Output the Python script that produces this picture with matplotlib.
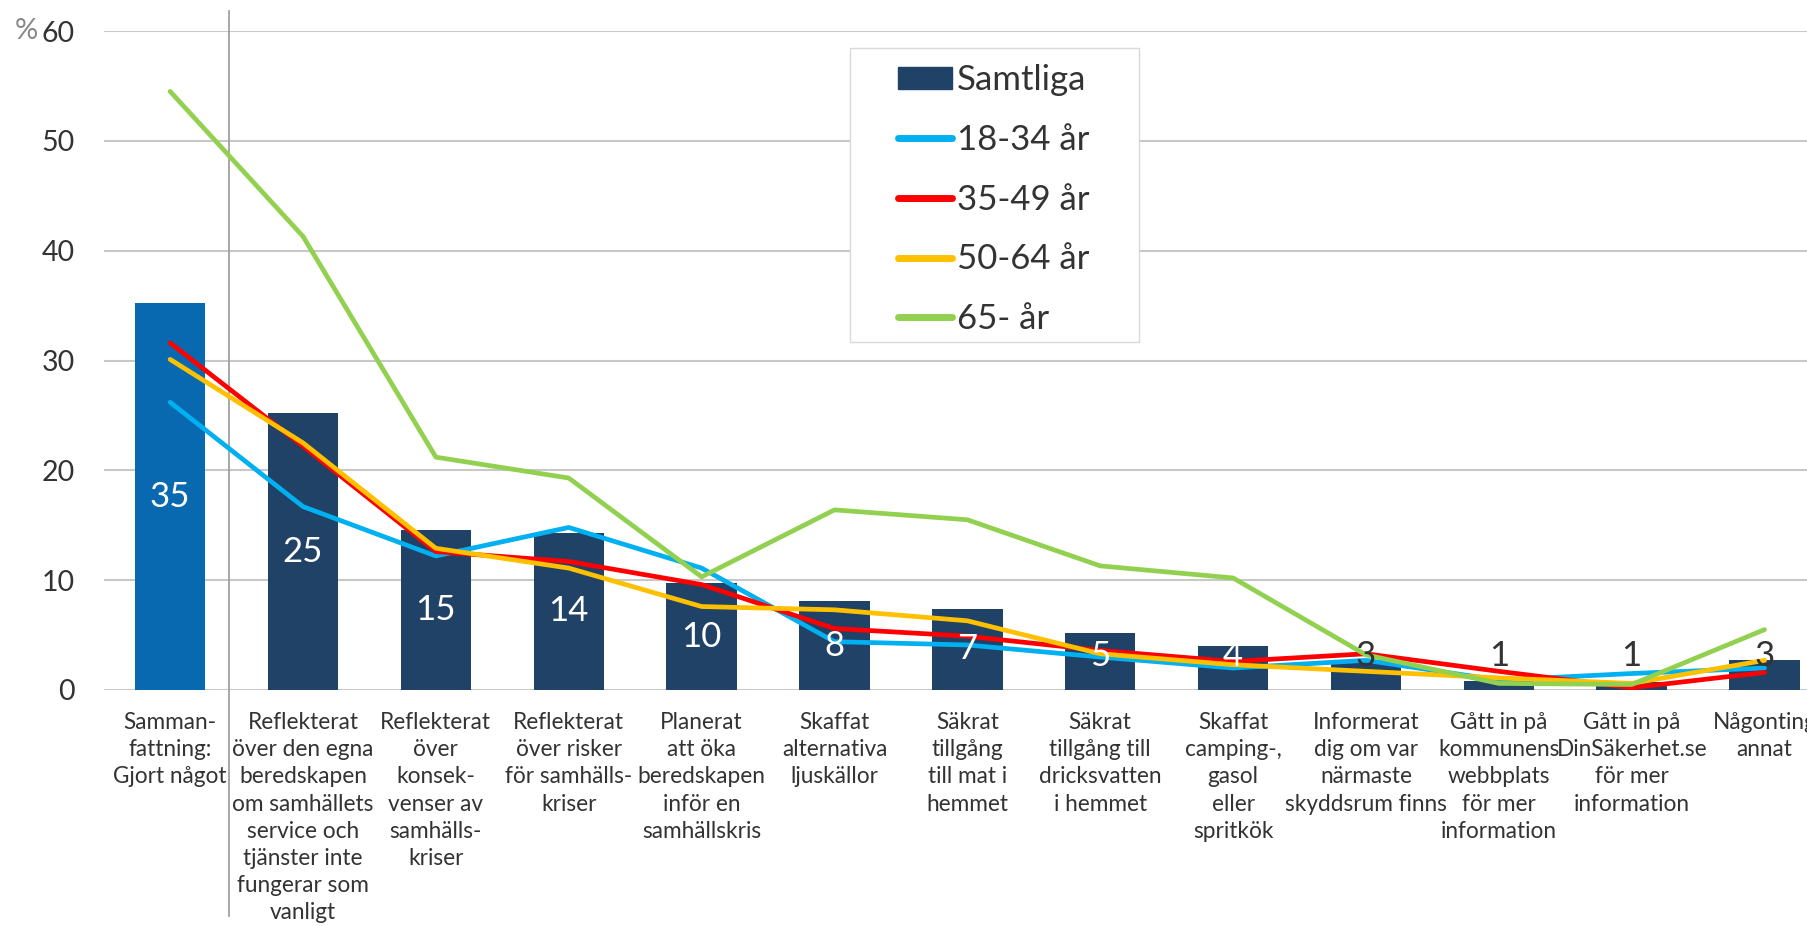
import matplotlib
matplotlib.use("Agg")
import matplotlib.pyplot as plt
from matplotlib.patches import Rectangle, Patch
from matplotlib.lines import Line2D
import matplotlib.transforms as mtransforms

plt.rcParams['font.family'] = ['Lato', 'DejaVu Sans']

# --- data -------------------------------------------------------------
categories = [
    "Samman-\nfattning:\nGjort något",
    "Reflekterat\növer den egna\nberedskapen\nom samhällets\nservice och\ntjänster inte\nfungerar som\nvanligt",
    "Reflekterat\növer\nkonsek-\nvenser av\nsamhälls-\nkriser",
    "Reflekterat\növer risker\nför samhälls-\nkriser",
    "Planerat\natt öka\nberedskapen\ninför en\nsamhällskris",
    "Skaffat\nalternativa\nljuskällor",
    "Säkrat\ntillgång\ntill mat i\nhemmet",
    "Säkrat\ntillgång till\ndricksvatten\ni hemmet",
    "Skaffat\ncamping-,\ngasol\neller\nspritkök",
    "Informerat\ndig om var\nnärmaste\nskyddsrum finns",
    "Gått in på\nkommunens\nwebbplats\nför mer\ninformation",
    "Gått in på\nDinSäkerhet.se\nför mer\ninformation",
    "Någonting\nannat",
]

samtliga = [35.2, 25.2, 14.6, 14.3, 9.7, 8.1, 7.4, 5.2, 4.0, 2.7, 0.8, 0.7, 2.7]
age_18_34 = [26.2, 16.7, 12.2, 14.8, 11.1, 4.4, 4.1, 3.0, 2.0, 2.7, 0.9, 1.5, 2.0]
age_35_49 = [31.6, 22.2, 12.6, 11.7, 9.6, 5.6, 4.9, 3.6, 2.6, 3.3, 1.7, 0.2, 1.6]
age_50_64 = [30.1, 22.5, 12.9, 11.1, 7.6, 7.3, 6.3, 3.3, 2.3, 1.7, 1.1, 0.6, 2.7]
age_65 = [54.5, 41.3, 21.2, 19.3, 10.3, 16.4, 15.5, 11.3, 10.2, 3.2, 0.6, 0.5, 5.5]

series_names = ["18-34 år", "35-49 år", "50-64 år", "65- år"]
y_ticks = [0, 10, 20, 30, 40, 50, 60]

# --- style ------------------------------------------------------------
NAVY = "#1F4266"
SUMMARY_BLUE = "#0868B0"
LINE_COLORS = ["#00B0F0", "#FF0000", "#FFC000", "#92D050"]
TEXT = "#333333"
GRID = "#C8C8C8"

W, H = 1807, 926
fig = plt.figure(figsize=(W / 100, H / 100), dpi=100)

# plot area in pixel terms
left_px, right_px = 103.7, 1831.0
bottom_px, top_px = 690.0, 31.0
ax = fig.add_axes([left_px / W, 1 - bottom_px / H,
                   (right_px - left_px) / W, (bottom_px - top_px) / H])

x = list(range(len(categories)))
bar_colors = [SUMMARY_BLUE] + [NAVY] * (len(categories) - 1)
ax.bar(x, samtliga, width=0.53, color=bar_colors, zorder=2)

for vals, col in zip([age_18_34, age_35_49, age_50_64, age_65], LINE_COLORS):
    ax.plot(x, vals, color=col, lw=3.4, solid_capstyle="round",
            solid_joinstyle="round", zorder=3)

# value labels on bars
for xi, v in zip(x, samtliga):
    inside = v >= 4
    ax.text(xi, max(v / 2, 3.1), f"{round(v)}", ha="center", va="center",
            fontsize=25, color="white" if inside else TEXT, zorder=4)

ax.set_xlim(-0.5, len(categories) - 0.5)
ax.set_ylim(0, 60)
ax.set_yticks(y_ticks)
ax.set_yticklabels([str(t) for t in y_ticks], fontsize=20.5, color=TEXT)
ax.set_xticks(x)
ax.set_xticklabels(categories, fontsize=16.3, color=TEXT, linespacing=1.36)
ax.tick_params(axis="both", length=0)
ax.tick_params(axis="y", pad=21)
ax.tick_params(axis="x", pad=16)
ax.grid(axis="y", color=GRID, lw=1.5)
ax.set_axisbelow(True)
for s in ax.spines.values():
    s.set_visible(False)

# separator between the summary and the individual actions
trans = mtransforms.blended_transform_factory(ax.transData, ax.transAxes)
ax.plot([0.44, 0.44], [1.0296, -0.343], transform=trans, color="#A0A0A0",
        lw=1.3, clip_on=False, zorder=1)

# unit marker next to the top tick
fig.text(26 / W, 1 - 31 / H, "%", fontsize=21, color="#888888",
         ha="center", va="center")

# legend with its own frame
fig.patches.append(Rectangle((850 / W, 1 - 342 / H), 289 / W, 294 / H,
                             transform=fig.transFigure, facecolor="white",
                             edgecolor="#D9D9D9", lw=1.0, zorder=5))
handles = [Patch(facecolor=NAVY, edgecolor=NAVY)]
handles += [Line2D([0], [0], color=c, lw=5, solid_capstyle="round")
            for c in LINE_COLORS]
labels = ["Samtliga"] + series_names
leg = fig.legend(handles, labels, loc="upper left",
                 bbox_to_anchor=(898 / W, 1 - 64 / H), frameon=False,
                 fontsize=25, handlelength=1.55, handleheight=0.6,
                 handletextpad=0.15, labelspacing=0.8, borderpad=0,
                 borderaxespad=0)
for t in leg.get_texts():
    t.set_color(TEXT)
leg.set_zorder(6)

fig.savefig("out.png", dpi=100)
